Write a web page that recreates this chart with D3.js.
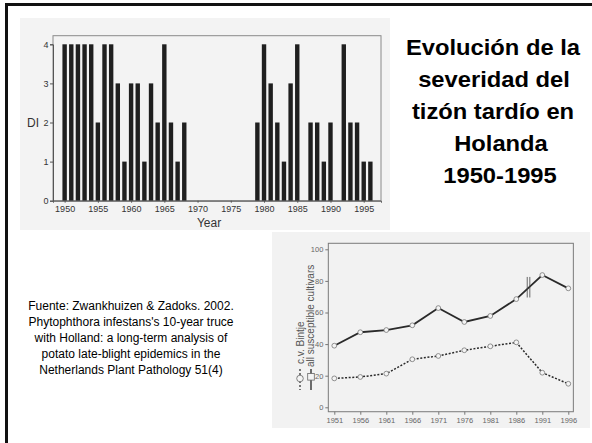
<!DOCTYPE html>
<html>
<head>
<meta charset="utf-8">
<script src="https://cdn.jsdelivr.net/npm/d3@7"></script>
<style>
body { margin: 0; background: #fff; }
svg { display: block; }
text { font-family: "Liberation Sans", Arial, sans-serif; }
</style>
</head>
<body>
<div id="slide"></div>
<script>
// bar chart: disease index (DI) per year
let barYears = [1950, 1951, 1952, 1953, 1954, 1955, 1956, 1957, 1958, 1959,
                1960, 1961, 1962, 1963, 1964, 1965, 1966, 1967, 1968,
                1979, 1980, 1981, 1982, 1983, 1984, 1985,
                1987, 1988, 1989, 1990,
                1992, 1993, 1994, 1995, 1996];
let barDI = [4, 4, 4, 4, 4, 2, 4, 4, 3, 1,
             3, 3, 1, 3, 2, 4, 2, 1, 2,
             2, 4, 3, 2, 1, 3, 4,
             2, 2, 1, 2,
             4, 2, 2, 1, 1];
let barXTicks = [1950, 1955, 1960, 1965, 1970, 1975, 1980, 1985, 1990, 1995];
let barYTicks = [0, 1, 2, 3, 4];

// line chart: % of fields infected
let lineYears = [1951, 1956, 1961, 1966, 1971, 1976, 1981, 1986, 1991, 1996];
let allCultivars = [39, 47.5, 48.9, 51.9, 62.8, 54, 57.8, 68.5, 83.7, 75.3];
let bintje = [18.3, 19.2, 21.3, 30.4, 32.5, 36.1, 38.6, 41.1, 21.9, 14.9];
let lineYTicks = [0, 20, 40, 60, 80, 100];

let titleLines = ["Evolución de la", "severidad del", "tizón tardío en", "Holanda", "1950-1995"];
let sourceLines = ["Fuente: Zwankhuizen & Zadoks. 2002.",
                   "Phytophthora infestans's 10-year truce",
                   "with Holland: a long-term analysis of",
                   "potato late-blight epidemics in the",
                   "Netherlands Plant Pathology 51(4)"];

let svg = d3.select("#slide")
            .append("svg")
            .attr("width", 592)
            .attr("height", 443);

// slide frame (only top and left edges show)
svg.append("rect").attr("x", 5).attr("y", 3).attr("width", 587).attr("height", 3).attr("fill", "#111");
svg.append("rect").attr("x", 5).attr("y", 3).attr("width", 3).attr("height", 440).attr("fill", "#111");

// ---------- bar chart (scanned figure) ----------
svg.append("rect")
   .attr("x", 20).attr("y", 18).attr("width", 370).attr("height", 212)
   .attr("fill", "#f3f3f3");

let xBar = d3.scaleLinear().domain([1948.25, 1997.6]).range([53, 381]);
let yBar = d3.scaleLinear().domain([0, 4]).range([200.7, 44.3]);

let gBar = svg.append("g");

gBar.append("rect")
    .attr("x", xBar.range()[0])
    .attr("y", yBar(4.22))
    .attr("width", xBar.range()[1] - xBar.range()[0])
    .attr("height", yBar(0) - yBar(4.22))
    .attr("fill", "none")
    .attr("stroke", "#8a8a8a")
    .attr("stroke-width", 1);

gBar.selectAll("rect.bar")
    .data(barYears)
    .enter().append("rect")
    .attr("class", "bar")
    .attr("x", function(d){ return xBar(d) - 2.2; })
    .attr("width", 4.4)
    .attr("y", function(d, i){ return yBar(barDI[i]); })
    .attr("height", function(d, i){ return yBar(0) - yBar(barDI[i]); })
    .attr("fill", "#1f1f1f");

let xBarAxis = d3.axisBottom(xBar)
                 .tickValues(barXTicks)
                 .tickFormat(d3.format("d"))
                 .tickSize(2)
                 .tickPadding(3);
gBar.append("g")
    .attr("transform", "translate(0," + yBar(0) + ")")
    .call(xBarAxis);

let yBarAxis = d3.axisLeft(yBar)
                 .tickValues(barYTicks)
                 .tickFormat(d3.format("d"))
                 .tickSize(3)
                 .tickPadding(1.5);
gBar.append("g")
    .attr("transform", "translate(" + xBar.range()[0] + ",0)")
    .call(yBarAxis);

gBar.selectAll(".domain").attr("stroke", "#555");
gBar.selectAll(".tick line").attr("stroke", "#555");
gBar.selectAll(".tick text")
    .attr("font-family", "Liberation Sans, Arial, sans-serif")
    .attr("font-size", "9px")
    .attr("fill", "#333");

gBar.append("text")
    .attr("x", 33).attr("y", 127)
    .attr("text-anchor", "middle")
    .attr("font-size", "12px")
    .attr("fill", "#333")
    .text("DI");

gBar.append("text")
    .attr("x", 209).attr("y", 227)
    .attr("text-anchor", "middle")
    .attr("font-size", "12px")
    .attr("fill", "#333")
    .text("Year");

// ---------- title ----------
let titleX = [493, 494, 493, 501, 500];
svg.append("g").selectAll("text")
   .data(titleLines)
   .enter().append("text")
   .attr("transform", function(d, i){ return "translate(" + titleX[i] + "," + (55 + i * 32) + ") scale(1.08,1)"; })
   .attr("text-anchor", "middle")
   .attr("font-size", "22px")
   .attr("font-weight", "bold")
   .attr("fill", "#000")
   .text(function(d){ return d; });

// ---------- source text ----------
svg.append("g").selectAll("text")
   .data(sourceLines)
   .enter().append("text")
   .attr("x", 131)
   .attr("y", function(d, i){ return 310 + i * 16; })
   .attr("text-anchor", "middle")
   .attr("font-size", "12px")
   .attr("fill", "#000")
   .text(function(d){ return d; });

// ---------- line chart (scanned figure) ----------
svg.append("defs").append("clipPath")
   .attr("id", "scan2")
   .append("rect")
   .attr("x", 272).attr("y", 232).attr("width", 318).attr("height", 196);

let gLine = svg.append("g").attr("clip-path", "url(#scan2)");

gLine.append("rect")
     .attr("x", 272).attr("y", 232).attr("width", 318).attr("height", 196)
     .attr("fill", "#f2f2f2");

let xLine = d3.scaleLinear().domain([1951, 1996]).range([334.3, 568.3]);
let yLine = d3.scaleLinear().domain([0, 100]).range([407.3, 249.3]);

gLine.append("rect")
     .attr("x", xLine(1949.85))
     .attr("y", yLine(103.8))
     .attr("width", xLine(1996.97) - xLine(1949.85))
     .attr("height", yLine(-2.8) - yLine(103.8))
     .attr("fill", "none")
     .attr("stroke", "#7a7a7a")
     .attr("stroke-width", 1);

let xLineAxis = d3.axisBottom(xLine)
                  .tickValues(lineYears)
                  .tickFormat(d3.format("d"))
                  .tickSize(3)
                  .tickPadding(3);
gLine.append("g")
     .attr("transform", "translate(0," + yLine(-2.8) + ")")
     .call(xLineAxis);

let yLineAxis = d3.axisLeft(yLine)
                  .tickValues(lineYTicks)
                  .tickSize(3)
                  .tickPadding(2);
gLine.append("g")
     .attr("transform", "translate(" + xLine(1949.85) + ",0)")
     .call(yLineAxis);

gLine.selectAll(".domain").remove();
gLine.selectAll(".tick line").attr("stroke", "#777");
gLine.selectAll(".tick text")
     .attr("font-family", "Liberation Sans, Arial, sans-serif")
     .attr("font-size", "7.5px")
     .attr("fill", "#666");

gLine.append("text")
     .attr("x", 440).attr("y", 436)
     .attr("text-anchor", "middle")
     .attr("font-size", "9px")
     .attr("fill", "#555")
     .text("Year");

let solidLine = d3.line()
                  .x(function(d, i){ return xLine(lineYears[i]); })
                  .y(function(d){ return yLine(d); });

gLine.append("path")
     .attr("d", solidLine(allCultivars))
     .attr("fill", "none")
     .attr("stroke", "#2a2a2a")
     .attr("stroke-width", 1.8);

gLine.append("path")
     .attr("d", solidLine(bintje))
     .attr("fill", "none")
     .attr("stroke", "#2a2a2a")
     .attr("stroke-width", 1.5)
     .attr("stroke-dasharray", "2,1.6");

// break mark on the solid line
[1988.1, 1988.6].forEach(function(yr){
  gLine.append("line")
       .attr("x1", xLine(yr)).attr("x2", xLine(yr))
       .attr("y1", yLine(82.5)).attr("y2", yLine(69.5))
       .attr("stroke", "#444")
       .attr("stroke-width", 0.8);
});

[allCultivars, bintje].forEach(function(series){
  gLine.selectAll(null)
       .data(series)
       .enter().append("circle")
       .attr("cx", function(d, i){ return xLine(lineYears[i]); })
       .attr("cy", function(d){ return yLine(d); })
       .attr("r", 2.4)
       .attr("fill", "#f4f4f4")
       .attr("stroke", "#777")
       .attr("stroke-width", 0.8);
});

// rotated legend
let legend = gLine.append("g");
legend.append("text")
      .attr("transform", "translate(303.5,364) rotate(-90)")
      .attr("font-size", "10px")
      .attr("fill", "#555")
      .text("c.v. Bintje");
legend.append("text")
      .attr("transform", "translate(314,367) rotate(-90)")
      .attr("font-size", "10px")
      .attr("fill", "#555")
      .text("all susceptible cultivars");
legend.append("line")
      .attr("x1", 300).attr("x2", 300).attr("y1", 369).attr("y2", 390)
      .attr("stroke", "#444").attr("stroke-width", 1.4)
      .attr("stroke-dasharray", "2,2");
legend.append("circle")
      .attr("cx", 300).attr("cy", 378.5).attr("r", 3.3)
      .attr("fill", "#f4f4f4").attr("stroke", "#666").attr("stroke-width", 0.8);
legend.append("line")
      .attr("x1", 311).attr("x2", 311).attr("y1", 369).attr("y2", 390)
      .attr("stroke", "#333").attr("stroke-width", 1.4);
legend.append("rect")
      .attr("x", 307.7).attr("y", 373.5).attr("width", 6.6).attr("height", 6.6)
      .attr("fill", "#f4f4f4").attr("stroke", "#666").attr("stroke-width", 0.8);
</script>
</body>
</html>
